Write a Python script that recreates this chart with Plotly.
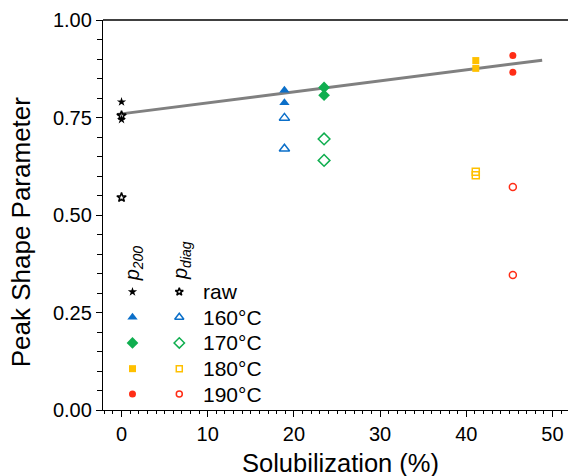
import plotly.graph_objects as go

# ---- data ----
raw_x = [0.0, 0.0]
raw_p200 = [0.790, 0.745]
raw_pdiag = [0.755, 0.545]

t160_x = [18.9, 18.9]
t160_p200 = [0.820, 0.788]
t160_pdiag = [0.749, 0.670]

t170_x = [23.5, 23.5]
t170_p200 = [0.827, 0.807]
t170_pdiag = [0.695, 0.640]

t180_x = [41.1, 41.1]
t180_p200 = [0.896, 0.876]
t180_pdiag = [0.611, 0.602]

t190_x = [45.4, 45.4]
t190_p200 = [0.909, 0.866]
t190_pdiag = [0.572, 0.346]

fit_x = [-0.5, 48.8]
fit_y = [0.758, 0.897]

labels = ["raw", "160°C", "170°C", "180°C", "190°C"]
x_title = "Solubilization (%)"
y_title = "Peak Shape Parameter"

# ---- styles ----
BLUE = "#0B6FC9"
GREEN = "#0FAE4F"
YELLOW = "#FFC000"
RED = "#FF2D16"
BLACK = "#000000"

series = [
    (raw_x, raw_p200, raw_pdiag, BLACK, "star", 7),
    (t160_x, t160_p200, t160_pdiag, BLUE, "triangle-up", 9),
    (t170_x, t170_p200, t170_pdiag, GREEN, "diamond", 9),
    (t180_x, t180_p200, t180_pdiag, YELLOW, "square", 7),
    (t190_x, t190_p200, t190_pdiag, RED, "circle", 7),
]

FONT = "Liberation Sans, Arial, sans-serif"

fig = go.Figure()

fig.add_trace(go.Scatter(x=fit_x, y=fit_y, mode="lines",
                         line=dict(color="#808080", width=3), showlegend=False,
                         hoverinfo="skip"))

for xs, p200, pdiag, col, sym, sz in series:
    fig.add_trace(go.Scatter(x=xs, y=p200, mode="markers",
                             marker=dict(symbol=sym, color=col, size=sz,
                                         line=dict(width=0)),
                             showlegend=False))
    fig.add_trace(go.Scatter(x=xs, y=pdiag, mode="markers",
                             marker=dict(symbol=sym + "-open", color=col, size=sz,
                                         line=dict(width=1.5, color=col)),
                             showlegend=False))

# ---- custom legend ----
leg_x_filled = 1.27
leg_x_open = 6.7
leg_x_text = 9.2
leg_rows = [0.303, 0.238, 0.172, 0.106, 0.041]

for (xs, p200, pdiag, col, sym, sz), ry, lab in zip(series, leg_rows, labels):
    fig.add_trace(go.Scatter(x=[leg_x_filled], y=[ry], mode="markers",
                             marker=dict(symbol=sym, color=col, size=sz,
                                         line=dict(width=0)),
                             showlegend=False, hoverinfo="skip"))
    fig.add_trace(go.Scatter(x=[leg_x_open], y=[ry], mode="markers",
                             marker=dict(symbol=sym + "-open", color=col, size=sz - 1,
                                         line=dict(width=1.5, color=col)),
                             showlegend=False, hoverinfo="skip"))
    fig.add_annotation(x=leg_x_text, y=ry, text=lab, showarrow=False,
                       xanchor="left", yanchor="middle",
                       font=dict(family=FONT, size=21, color="#000"))

fig.add_annotation(x=1.4, y=0.375, text="<i>p<sub>200</sub></i>", textangle=-90,
                   showarrow=False, xanchor="center", yanchor="middle",
                   font=dict(family=FONT, size=20, color="#000"))
fig.add_annotation(x=6.9, y=0.382, text="<i>p<sub>diag</sub></i>", textangle=-90,
                   showarrow=False, xanchor="center", yanchor="middle",
                   font=dict(family=FONT, size=20, color="#000"))

# axis titles
fig.add_annotation(xref="paper", yref="paper", x=-0.176, y=0.456, text=y_title,
                   textangle=-90, showarrow=False, xanchor="center", yanchor="middle",
                   font=dict(family=FONT, size=26, color="#000"))
fig.add_annotation(xref="paper", yref="paper", x=0.510, y=-0.137, text=x_title,
                   showarrow=False, xanchor="center", yanchor="middle",
                   font=dict(family=FONT, size=25.5, color="#000"))

# top border line
fig.add_shape(type="line", xref="paper", yref="paper", x0=0, x1=1, y0=1, y1=1,
              line=dict(color="#000", width=1.3))

fig.update_layout(
    width=568, height=476,
    margin=dict(l=103, r=0, t=20, b=66),
    paper_bgcolor="white", plot_bgcolor="white",
    font=dict(family=FONT, size=20, color="#000"),
    showlegend=False,
)

fig.update_xaxes(
    range=[-2.15, 51.8], tickvals=[0, 10, 20, 30, 40, 50],
    showgrid=False, zeroline=False, showline=True, linecolor="#000", linewidth=1.3,
    ticks="outside", ticklen=6, tickwidth=1.3, tickcolor="#000",
    minor=dict(dtick=1, tick0=0, ticks="outside", ticklen=3, tickwidth=1, tickcolor="#000"),
    tickfont=dict(size=20),
)
fig.update_yaxes(
    range=[0, 1], tickvals=[0, 0.25, 0.5, 0.75, 1.0],
    ticktext=["0.00", "0.25", "0.50", "0.75", "1.00"],
    showgrid=False, zeroline=False, showline=True, linecolor="#000", linewidth=1.3,
    ticks="outside", ticklen=6, tickwidth=1.3, tickcolor="#000",
    minor=dict(dtick=0.05, tick0=0, ticks="outside", ticklen=5, tickwidth=1, tickcolor="#000"),
    tickfont=dict(size=20),
)

fig.write_html("out.html")
